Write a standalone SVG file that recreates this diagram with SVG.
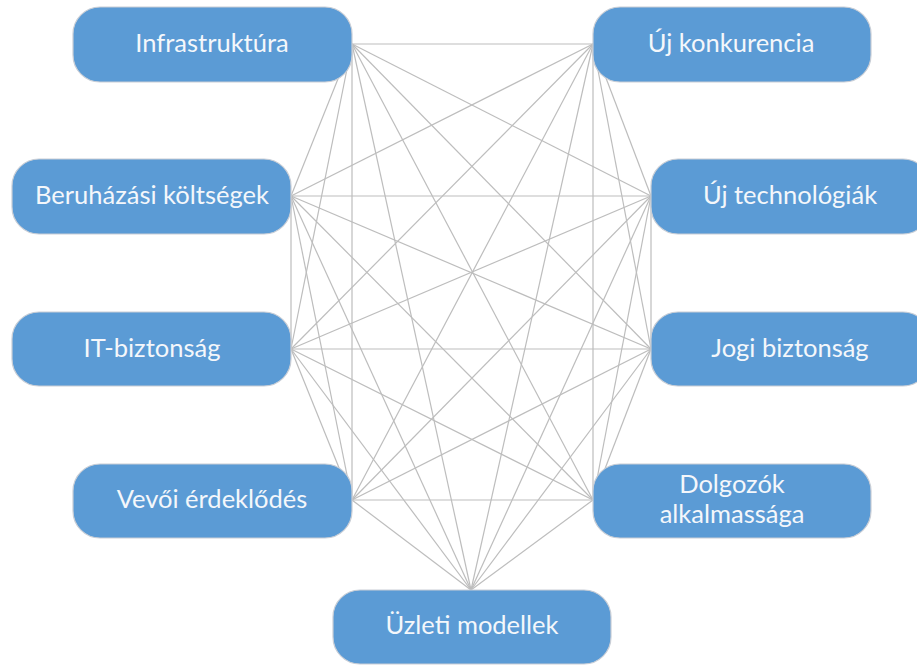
<svg xmlns="http://www.w3.org/2000/svg" width="917" height="666" viewBox="0 0 917 666">
<style>
.box{fill:#5B9BD5;stroke:#C9CED6;stroke-width:1.2}
.lbl{fill:#F4F7FB;font-family:Lato,"Open Sans","Liberation Sans",sans-serif;font-size:25.5px;text-anchor:middle}
#connectors line{stroke:#BDBDBD;stroke-width:1.2}
</style>
<rect width="917" height="666" fill="#fff"/>
<g id="connectors">
<line x1="352" y1="44" x2="593" y2="44"/>
<line x1="352" y1="44" x2="291" y2="196"/>
<line x1="352" y1="44" x2="651" y2="196"/>
<line x1="352" y1="44" x2="291" y2="349"/>
<line x1="352" y1="44" x2="651" y2="349"/>
<line x1="352" y1="44" x2="352" y2="500"/>
<line x1="352" y1="44" x2="593" y2="500"/>
<line x1="352" y1="44" x2="471" y2="590"/>
<line x1="593" y1="44" x2="291" y2="196"/>
<line x1="593" y1="44" x2="651" y2="196"/>
<line x1="593" y1="44" x2="291" y2="349"/>
<line x1="593" y1="44" x2="651" y2="349"/>
<line x1="593" y1="44" x2="352" y2="500"/>
<line x1="593" y1="44" x2="593" y2="500"/>
<line x1="593" y1="44" x2="471" y2="590"/>
<line x1="291" y1="196" x2="651" y2="196"/>
<line x1="291" y1="196" x2="291" y2="349"/>
<line x1="291" y1="196" x2="651" y2="349"/>
<line x1="291" y1="196" x2="352" y2="500"/>
<line x1="291" y1="196" x2="593" y2="500"/>
<line x1="291" y1="196" x2="471" y2="590"/>
<line x1="651" y1="196" x2="291" y2="349"/>
<line x1="651" y1="196" x2="651" y2="349"/>
<line x1="651" y1="196" x2="352" y2="500"/>
<line x1="651" y1="196" x2="593" y2="500"/>
<line x1="651" y1="196" x2="471" y2="590"/>
<line x1="291" y1="349" x2="651" y2="349"/>
<line x1="291" y1="349" x2="352" y2="500"/>
<line x1="291" y1="349" x2="593" y2="500"/>
<line x1="291" y1="349" x2="471" y2="590"/>
<line x1="651" y1="349" x2="352" y2="500"/>
<line x1="651" y1="349" x2="593" y2="500"/>
<line x1="651" y1="349" x2="471" y2="590"/>
<line x1="352" y1="500" x2="593" y2="500"/>
<line x1="352" y1="500" x2="471" y2="590"/>
<line x1="593" y1="500" x2="471" y2="590"/>
</g>
<g id="infrastruktura"><rect class="box" x="73" y="7" width="279" height="75" rx="27"/><text class="lbl" x="212" y="52">Infrastruktúra</text></g>
<g id="uj-konkurencia"><rect class="box" x="593" y="7" width="278" height="75" rx="27"/><text class="lbl" x="731" y="52">Új konkurencia</text></g>
<g id="beruhazasi"><rect class="box" x="12" y="159" width="279" height="75" rx="27"/><text class="lbl" x="152" y="204">Beruházási költségek</text></g>
<g id="uj-technologiak"><rect class="box" x="651" y="159" width="279" height="75" rx="27"/><text class="lbl" x="790" y="204">Új technológiák</text></g>
<g id="it-biztonsag"><rect class="box" x="12" y="312" width="279" height="74" rx="27"/><text class="lbl" x="152" y="357">IT-biztonság</text></g>
<g id="jogi-biztonsag"><rect class="box" x="651" y="312" width="279" height="74" rx="27"/><text class="lbl" x="790" y="357">Jogi biztonság</text></g>
<g id="vevoi"><rect class="box" x="73" y="464" width="279" height="74" rx="27"/><text class="lbl" x="212" y="508">Vevői érdeklődés</text></g>
<g id="dolgozok"><rect class="box" x="593" y="464" width="278" height="74" rx="27"/><text class="lbl" x="732" y="493">Dolgozók</text><text class="lbl" x="732" y="523">alkalmassága</text></g>
<g id="uzleti-modellek"><rect class="box" x="333" y="590" width="278" height="74" rx="27"/><text class="lbl" x="472" y="634">Üzleti modellek</text></g>
</svg>
